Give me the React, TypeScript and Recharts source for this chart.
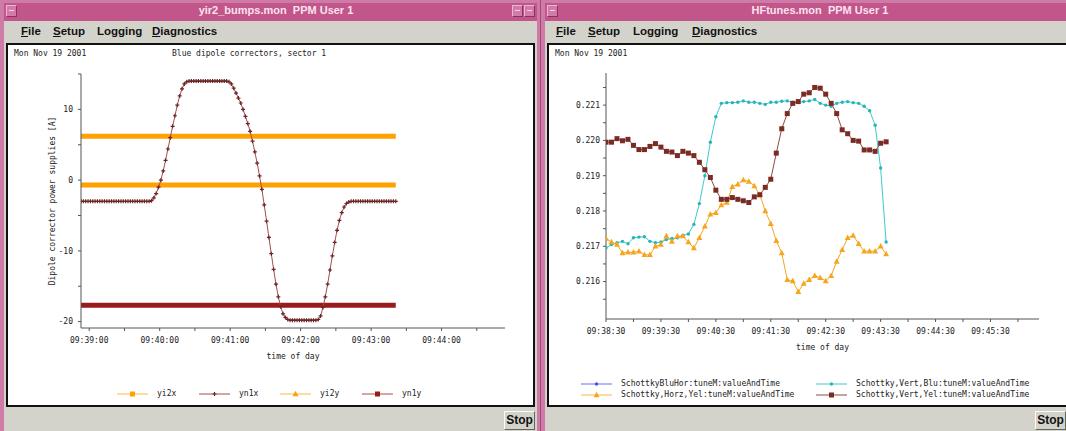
import React from 'react';
import { LineChart, Line, XAxis, YAxis, Legend } from 'recharts';

const MONO = '"DejaVu Sans Mono", "Liberation Mono", monospace';
const UI = '"Liberation Sans", "DejaVu Sans", Arial, sans-serif';

// ---------- yir2_bumps.mon : Blue dipole correctors, sector 1 ----------
const bumpStart = '09:38:53';
const bumpStepSec = 2;
// yn1x readback [A], one sample per logging step
const yn1x = [
  -3, -3, -3, -3, -3, -3, -3, -3, -3, -3,
  -3, -3, -3, -3, -3, -3, -3, -3, -3, -3,
  -3, -3, -3, -3, -3, -3, -3, -3, -3, -3,
  -2.9, -2.5, -1.9, -1.0, 0.0, 1.3, 2.8, 4.4, 6.0, 7.6, 9.1, 10.6, 11.9, 12.9, 13.6, 13.9,
  14, 14, 14, 14, 14, 14, 14, 14, 14, 14,
  14, 14, 14, 14, 14, 14, 14,
  13.9, 13.6, 13.0, 12.3, 11.6, 10.9, 10.0, 9.0, 8.0, 6.9, 5.5, 4.0, 2.4,
  0.6, -1.3, -3.5, -5.8, -8.1, -10.4, -12.6, -14.7, -16.5, -17.9, -18.9, -19.4, -19.7,
  -19.8, -19.8, -19.8, -19.8, -19.8, -19.8, -19.8, -19.8, -19.8, -19.8, -19.8, -19.8,
  -19.7, -19.2, -18.0, -16.5, -14.7, -12.7, -10.7, -8.8, -7.1, -5.7, -4.6, -3.8, -3.3, -3.1,
  -3, -3, -3, -3, -3, -3, -3, -3, -3, -3,
  -3, -3, -3, -3, -3, -3, -3, -3, -3, -3,
];
// the other three supplies held constant over the window
const yi2xLevel = 6.2;
const yi2yLevel = -0.7;
const yn1yLevel = -17.7;

const bumpTimeRange = ['09:38:53', '09:44:54'];
const bumpTimeTicks = [
  '09:39:00', '09:39:30', '09:40:00', '09:40:30', '09:41:00', '09:41:30',
  '09:42:00', '09:42:30', '09:43:00', '09:43:30', '09:44:00', '09:44:30',
];
const bumpValueRange = [-20.9, 15];
const bumpValueTicks = [-20, -15, -10, -5, 0, 5, 10, 15];

// ---------- HFtunes.mon : Schottky tune monitor ----------
const tuneStart = '09:38:30';
const tuneStepSec = 6;
const vertYel = [
  0.21995, 0.21995, 0.22005, 0.21999, 0.22003, 0.21986, 0.21974, 0.21974, 0.21983, 0.21991,
  0.21981, 0.21969, 0.21967, 0.21957, 0.21969, 0.21964, 0.21957, 0.21938, 0.21917, 0.21895,
  0.21859, 0.21833, 0.21833, 0.21838, 0.21833, 0.21829, 0.21824, 0.21840, 0.21846, 0.21867,
  0.21890, 0.21964, 0.22033, 0.22076, 0.22105, 0.22110, 0.22131, 0.22135, 0.22150, 0.22148,
  0.22131, 0.22105, 0.22076, 0.22030, 0.22019, 0.22000, 0.21998, 0.21973, 0.21973, 0.21969,
  0.21992, 0.21996,
];
const vertBlu = [
  0.21695, 0.21705, 0.21710, 0.21714, 0.21707, 0.21724, 0.21726, 0.21727, 0.21714, 0.21710,
  0.21712, 0.21719, 0.21722, 0.21724, 0.21731, 0.21735, 0.21762, 0.21821, 0.21900, 0.21995,
  0.22067, 0.22105, 0.22107, 0.22107, 0.22108, 0.22112, 0.22108, 0.22108, 0.22105, 0.22102,
  0.22108, 0.22108, 0.22111, 0.22112, 0.22108, 0.22108, 0.22110, 0.22112, 0.22116, 0.22105,
  0.22100, 0.22097, 0.22105, 0.22108, 0.22110, 0.22107, 0.22105, 0.22097, 0.22084, 0.22043,
  0.21922, 0.21712,
];
const horzYel = [
  0.21722, 0.21712, 0.21705, 0.21681, 0.21683, 0.21683, 0.21686, 0.21676, 0.21676, 0.21700,
  0.21705, 0.21729, 0.21714, 0.21729, 0.21729, 0.21712, 0.21695, 0.21724, 0.21757, 0.21791,
  0.21795, 0.21817, 0.21824, 0.21869, 0.21876, 0.21888, 0.21884, 0.21871, 0.21846, 0.21800,
  0.21764, 0.21716, 0.21681, 0.21605, 0.21602, 0.21571, 0.21595, 0.21605, 0.21617, 0.21611,
  0.21602, 0.21617, 0.21657, 0.21690, 0.21724, 0.21731, 0.21707, 0.21686, 0.21686, 0.21686,
  0.21700, 0.21678,
];
const tuneTimeRange = ['09:38:30', '09:46:23'];
const tuneTimeTicks = [
  '09:38:30', '09:39:00', '09:39:30', '09:40:00', '09:40:30', '09:41:00', '09:41:30', '09:42:00',
  '09:42:30', '09:43:00', '09:43:30', '09:44:00', '09:44:30', '09:45:00', '09:45:30', '09:46:00',
];
const tuneValueRange = [0.21494, 0.22191];
const tuneValueTicks = [
  0.2155, 0.216, 0.2165, 0.217, 0.2175, 0.218, 0.2185, 0.219, 0.2195, 0.22, 0.2205, 0.221, 0.2215,
];

// ---------- helpers ----------
const toSec = (hms: string) => {
  const [h, m, s] = hms.split(':').map(Number);
  return h * 3600 + m * 60 + s;
};
const pad = (n: number) => String(n).padStart(2, '0');
const toHms = (sec: number) =>
  `${pad(Math.floor(sec / 3600))}:${pad(Math.floor((sec % 3600) / 60))}:${pad(sec % 60)}`;

const bumpRows = yn1x.map((v, i) => ({
  t: toSec(bumpStart) + i * bumpStepSec,
  yn1x: v,
  yi2x: yi2xLevel,
  yi2y: yi2yLevel,
  yn1y: yn1yLevel,
}));

const tuneRows = vertYel.map((v, i) => ({
  t: toSec(tuneStart) + i * tuneStepSec,
  vertYel: v,
  vertBlu: vertBlu[i],
  horzYel: horzYel[i],
}));

// ---------- colours ----------
const ORANGE = '#ffa200';
const BROWN_LINE = '#a24f4c';
const BROWN_MARK = '#6b2424';
const DARK_RED = '#9a1b1b';
const CYAN = '#3ec9cc';
const TUNE_ORANGE = '#f6a61e';
const SQUARE_BROWN = '#7a2b24';
const TUNE_BROWN_LINE = '#8e4a42';
const BLUE = '#4b4bf0';
const AXIS = '#555';
const TEXT = '#222';

// ---------- markers ----------
type Shape = 'plus' | 'square' | 'triangle' | 'circle';
const marker = (shape: Shape, color: string, cx: number, cy: number, key?: React.Key) => {
  if (shape === 'plus')
    return (
      <path key={key} d={`M${cx - 2},${cy}H${cx + 2}M${cx},${cy - 2}V${cy + 2}`} stroke={color} strokeWidth={1.2} fill="none" />
    );
  if (shape === 'square') return <rect key={key} x={cx - 2.5} y={cy - 2.5} width={5} height={5} fill={color} />;
  if (shape === 'triangle')
    return <path key={key} d={`M${cx},${cy - 3.2}L${cx + 3},${cy + 2.3}L${cx - 3},${cy + 2.3}Z`} fill={color} />;
  return <circle key={key} cx={cx} cy={cy} r={1.7} fill={color} />;
};
const dotOf = (shape: Shape, color: string) => (p: any) => {
  const { cx, cy, index } = p;
  if (cx == null || cy == null) return <g key={`e${index}`} />;
  return marker(shape, color, cx, cy, `d${index}`);
};

// ---------- legends ----------
type LegendItem = { name: string; line: string; mark: string; shape: Shape; x: number; y: number };
const bumpLegend: LegendItem[] = [
  { name: 'yi2x', line: '#ffb84a', mark: ORANGE, shape: 'square', x: 0, y: 0 },
  { name: 'yn1x', line: BROWN_LINE, mark: BROWN_MARK, shape: 'plus', x: 82, y: 0 },
  { name: 'yi2y', line: '#ffb84a', mark: ORANGE, shape: 'triangle', x: 163, y: 0 },
  { name: 'yn1y', line: '#b04848', mark: DARK_RED, shape: 'square', x: 245, y: 0 },
];
const tuneLegend: LegendItem[] = [
  { name: 'SchottkyBluHor:tuneM:valueAndTime', line: '#6a6af5', mark: BLUE, shape: 'circle', x: 0, y: 0 },
  { name: 'Schottky,Vert,Blu:tuneM:valueAndTime', line: CYAN, mark: '#25b5b8', shape: 'circle', x: 235, y: 0 },
  { name: 'Schottky,Horz,Yel:tuneM:valueAndTime', line: '#f7b84a', mark: TUNE_ORANGE, shape: 'triangle', x: 0, y: 11 },
  { name: 'Schottky,Vert,Yel:tuneM:valueAndTime', line: TUNE_BROWN_LINE, mark: SQUARE_BROWN, shape: 'square', x: 235, y: 11 },
];
const legendContent = (items: LegendItem[]) => () => (
  <div style={{ position: 'relative', width: '100%', height: '100%' }}>
    {items.map((it) => (
      <div key={it.name} style={{ position: 'absolute', left: it.x, top: it.y, height: 10, whiteSpace: 'nowrap' }}>
        <svg width={32} height={10} style={{ position: 'absolute', left: 0, top: 0 }}>
          <line x1={0} y1={5} x2={31} y2={5} stroke={it.line} strokeWidth={1} />
          {marker(it.shape, it.mark, 15.5, 5)}
        </svg>
        <span
          style={{
            position: 'absolute', left: 40, top: 0, lineHeight: '10px',
            font: `8px ${MONO}`, color: TEXT,
          }}
        >
          {it.name}
        </span>
      </div>
    ))}
  </div>
);

const VerticalTitle = (p: any) => {
  const vb = p.viewBox || { x: 0, y: 0, width: 0, height: 0 };
  const cx = vb.x + 52;
  const cy = vb.y + vb.height / 2;
  return (
    <text
      x={cx} y={cy} transform={`rotate(-90 ${cx} ${cy})`}
      textAnchor="middle" dominantBaseline="central"
      fill={TEXT} fontSize={8} fontFamily={MONO}
    >
      Dipole corrector power supplies [A]
    </text>
  );
};

const tickStyle = { fill: TEXT, fontSize: 8, fontFamily: MONO };

// ---------- window chrome ----------
const FRAME = '#cf7ba7';
const TITLE_BG = '#c2558a';
const GRAY = '#d3d3cb';
const MENU = [
  { name: 'File', u: true },
  { name: 'Setup', u: true },
  { name: 'Logging', u: false },
  { name: 'Diagnostics', u: true },
];

const TitleButton = ({ x }: { x: number }) => (
  <div
    style={{
      position: 'absolute', left: x, top: 5, width: 11, height: 12, background: '#d27aa8',
      borderTop: '1px solid #eab6d0', borderLeft: '1px solid #eab6d0',
      borderRight: '1px solid #8c3060', borderBottom: '1px solid #8c3060', boxSizing: 'border-box',
    }}
  >
    <div style={{ position: 'absolute', left: 2, top: 4, width: 5, height: 1, background: '#f4d8e6' }} />
  </div>
);

type WinProps = {
  x: number; w: number; title: string; titleCenter: number;
  menuX: number[]; stopX: number; date: string; heading?: string; headingX?: number;
  buttons: number[];
};
const Window = ({ x, w, title, titleCenter, menuX, stopX, date, heading, headingX, buttons }: WinProps) => (
  <>
    <div style={{ position: 'absolute', left: x + 4, top: 3, width: w - 8, height: 18, background: TITLE_BG }} />
    {buttons.map((b) => <TitleButton key={b} x={b} />)}
    <div
      style={{
        position: 'absolute', left: titleCenter - 150, width: 300, top: 4, lineHeight: '16px',
        textAlign: 'center', font: `bold 11px ${UI}`, color: '#fbe2ef', whiteSpace: 'pre',
      }}
    >
      {title}
    </div>
    <div style={{ position: 'absolute', left: x + 4, top: 21, width: w - 8, height: 410, background: GRAY }} />
    {MENU.map((m, i) => (
      <div
        key={m.name}
        style={{ position: 'absolute', left: menuX[i], top: 25, lineHeight: '14px', font: `bold 11.5px ${UI}`, color: '#111' }}
      >
        {m.u ? (
          <>
            <span style={{ textDecoration: 'underline' }}>{m.name[0]}</span>
            {m.name.slice(1)}
          </>
        ) : (
          m.name
        )}
      </div>
    ))}
    <div
      style={{
        position: 'absolute', left: x + 6, top: 43, width: w - 12, height: 364,
        border: '2px solid #111', background: '#fff', boxSizing: 'border-box',
      }}
    />
    <div style={{ position: 'absolute', left: x + 14, top: 49, lineHeight: '10px', font: `8px ${MONO}`, color: TEXT }}>
      {date}
    </div>
    {heading && (
      <div style={{ position: 'absolute', left: headingX, top: 49, lineHeight: '10px', font: `8px ${MONO}`, color: TEXT }}>
        {heading}
      </div>
    )}
    <div
      style={{
        position: 'absolute', left: stopX, top: 411, width: 31, height: 19, background: GRAY,
        borderTop: '1px solid #fbfbf8', borderLeft: '1px solid #fbfbf8',
        borderRight: '1px solid #66665f', borderBottom: '1px solid #66665f', boxSizing: 'border-box',
        font: `bold 12px ${UI}`, lineHeight: '17px', textAlign: 'center', color: '#111',
      }}
    >
      Stop
    </div>
  </>
);

export default function App() {
  const bumpDomain = bumpTimeRange.map(toSec);
  const tuneDomain = tuneTimeRange.map(toSec);

  return (
    <div
      style={{
        position: 'fixed', left: 0, top: 0, width: 1066, height: 431, overflow: 'hidden',
        background: FRAME,
      }}
    >
      <div style={{ position: 'absolute', left: 540, top: 0, width: 1, height: 431, background: '#a8467a' }} />
      <Window
        x={0} w={541} title="yir2_bumps.mon  PPM User 1" titleCenter={276}
        menuX={[21, 53, 97, 152]} stopX={504} date="Mon Nov 19 2001"
        heading="Blue dipole correctors, sector 1" headingX={172} buttons={[6, 512, 524]}
      />
      <Window
        x={541} w={540} title="HFtunes.mon  PPM User 1" titleCenter={820}
        menuX={[556, 588, 633, 692]} stopX={1035} date="Mon Nov 19 2001" buttons={[547]}
      />

      {/* corrector currents */}
      <div style={{ position: 'absolute', left: 0, top: 0 }}>
        <LineChart width={541} height={407} data={bumpRows} margin={{ top: 74, right: 36, bottom: 48, left: 0 }}>
          <XAxis
            dataKey="t" type="number" domain={bumpDomain} allowDataOverflow
            ticks={bumpTimeTicks.map(toSec)} interval={0}
            tickFormatter={(v: number) => (v % 60 === 0 ? toHms(v) : '')}
            height={31} tickSize={3} tickMargin={6} tick={tickStyle}
            axisLine={{ stroke: AXIS }} tickLine={{ stroke: AXIS }}
            label={{ value: 'time of day', position: 'insideBottom', offset: 0, fill: TEXT, fontSize: 8, fontFamily: MONO }}
          />
          <YAxis
            type="number" domain={bumpValueRange} allowDataOverflow
            ticks={bumpValueTicks} interval={0}
            tickFormatter={(v: number) => (v % 10 === 0 ? String(v) : '')}
            width={81} tickSize={3} tickMargin={5} tick={tickStyle}
            axisLine={{ stroke: AXIS }} tickLine={{ stroke: AXIS }}
            label={(p: any) => <VerticalTitle {...p} />}
          />
          <Line dataKey="yi2x" stroke={ORANGE} strokeWidth={5} dot={false} activeDot={false} isAnimationActive={false} />
          <Line dataKey="yi2y" stroke={ORANGE} strokeWidth={5} dot={false} activeDot={false} isAnimationActive={false} />
          <Line dataKey="yn1y" stroke={DARK_RED} strokeWidth={5} dot={false} activeDot={false} isAnimationActive={false} />
          <Line
            dataKey="yn1x" stroke={BROWN_LINE} strokeWidth={1}
            dot={dotOf('plus', BROWN_MARK)} activeDot={false} isAnimationActive={false}
          />
          <Legend
            layout="horizontal" verticalAlign="middle" align="center"
            wrapperStyle={{ left: 117, top: 389, width: 340, height: 10 }}
            content={legendContent(bumpLegend)}
          />
        </LineChart>
      </div>

      {/* Schottky tunes */}
      <div style={{ position: 'absolute', left: 541, top: 0 }}>
        <LineChart width={525} height={407} data={tuneRows} margin={{ top: 73, right: 27, bottom: 57, left: 0 }}>
          <XAxis
            dataKey="t" type="number" domain={tuneDomain} allowDataOverflow
            ticks={tuneTimeTicks.map(toSec)} interval={0}
            tickFormatter={(v: number) => (v % 60 === 30 ? toHms(v) : '')}
            height={31} tickSize={3} tickMargin={6} tick={tickStyle}
            axisLine={{ stroke: AXIS }} tickLine={{ stroke: AXIS }}
            label={{ value: 'time of day', position: 'insideBottom', offset: 0, fill: TEXT, fontSize: 8, fontFamily: MONO }}
          />
          <YAxis
            type="number" domain={tuneValueRange} allowDataOverflow
            ticks={tuneValueTicks} interval={0}
            tickFormatter={(v: number) => (Math.round(v * 2000) % 2 === 0 ? v.toFixed(3) : '')}
            width={65} tickSize={3} tickMargin={3} tick={tickStyle}
            axisLine={{ stroke: AXIS }} tickLine={{ stroke: AXIS }}
          />
          <Line
            dataKey="vertBlu" stroke={CYAN} strokeWidth={1}
            dot={dotOf('circle', '#25b5b8')} activeDot={false} isAnimationActive={false}
          />
          <Line
            dataKey="horzYel" stroke={TUNE_ORANGE} strokeWidth={1}
            dot={dotOf('triangle', TUNE_ORANGE)} activeDot={false} isAnimationActive={false}
          />
          <Line
            dataKey="vertYel" stroke={TUNE_BROWN_LINE} strokeWidth={1}
            dot={dotOf('square', SQUARE_BROWN)} activeDot={false} isAnimationActive={false}
          />
          <Legend
            layout="horizontal" verticalAlign="middle" align="center"
            wrapperStyle={{ left: 40, top: 379, width: 470, height: 22 }}
            content={legendContent(tuneLegend)}
          />
        </LineChart>
      </div>
    </div>
  );
}
